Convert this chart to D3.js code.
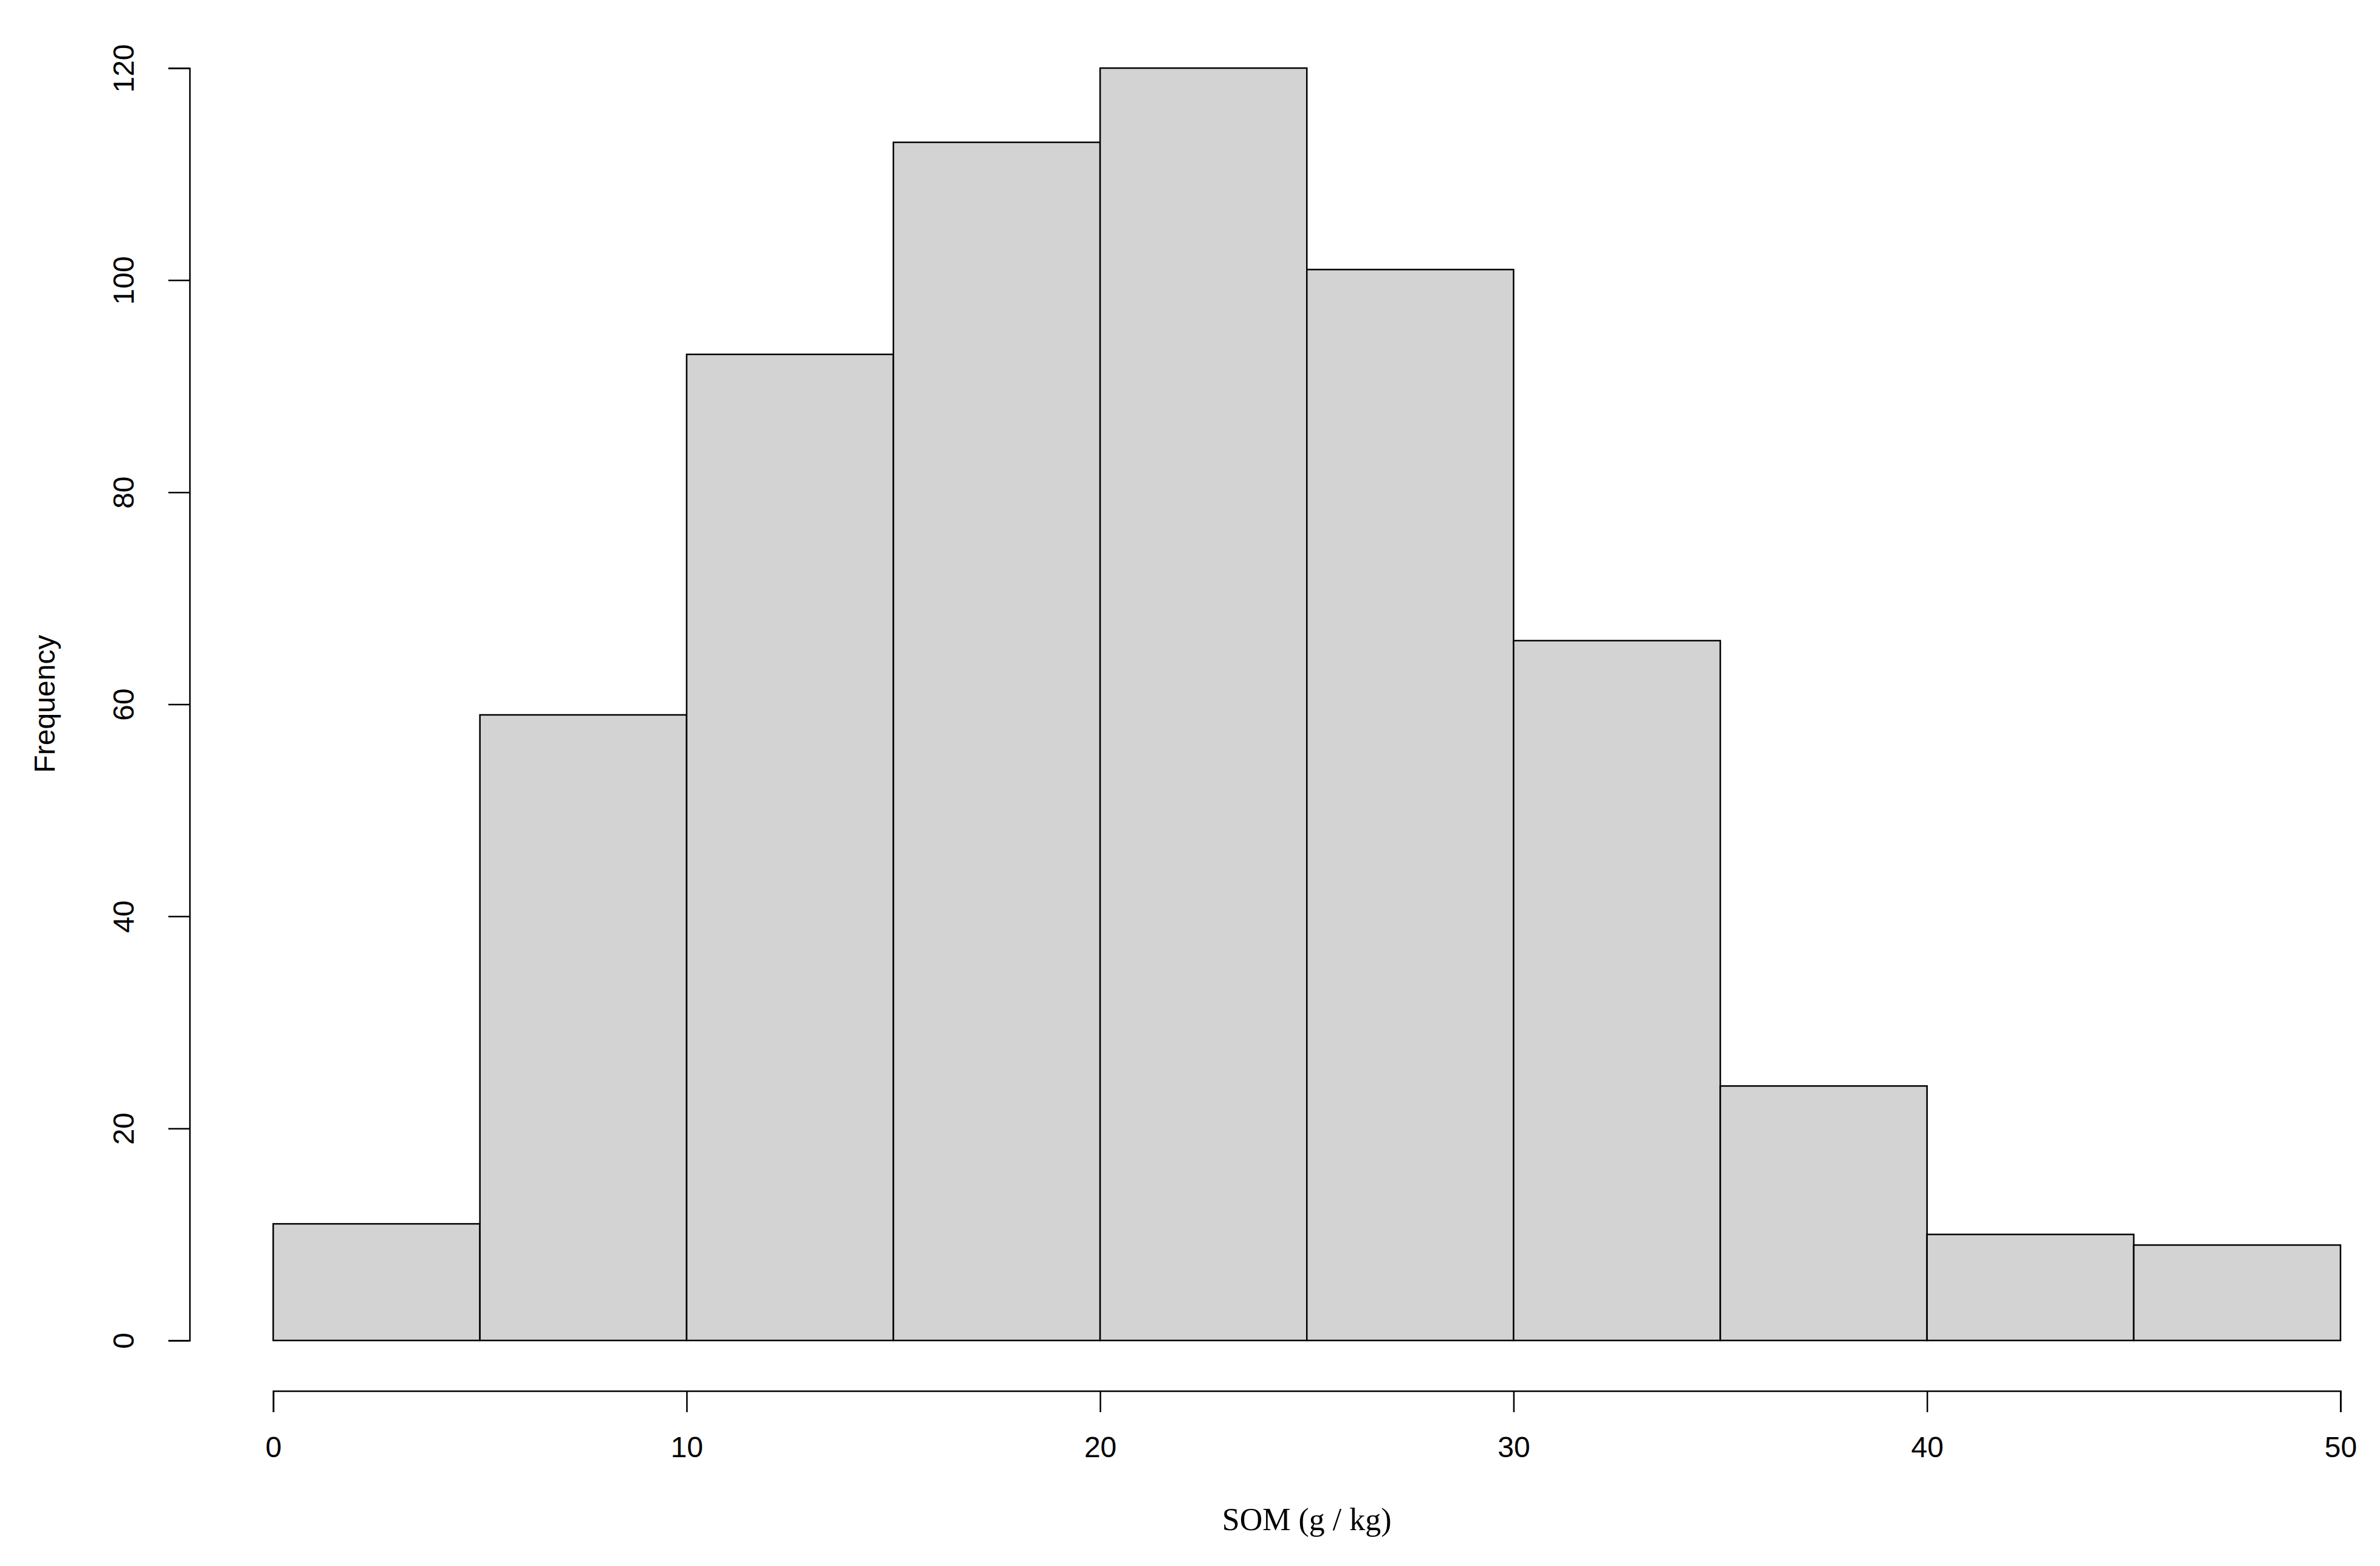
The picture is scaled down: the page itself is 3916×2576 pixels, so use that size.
<!DOCTYPE html>
<html>
<head>
<meta charset="utf-8">
<script src="https://cdn.jsdelivr.net/npm/d3@7"></script>
<style>
  body { margin: 0; background: #fff; }
  text { font-family: "Liberation Sans", Arial, sans-serif; fill: #000; }
</style>
</head>
<body>
<svg id="chart" width="3916" height="2576"></svg>
<script>
const binStarts = [0, 5, 10, 15, 20, 25, 30, 35, 40, 45];
const binWidth = 5;
const counts = [11, 59, 93, 113, 120, 101, 66, 24, 10, 9];
const xTicks = [0, 10, 20, 30, 40, 50];
const yTicks = [0, 20, 40, 60, 80, 100, 120];

const svg = d3.select("#chart");
const x = d3.scaleLinear().domain([0, 50]).range([449.5, 3851]);
const y = d3.scaleLinear().domain([0, 120]).range([2205, 112]);

// bars
svg.append("g")
    .selectAll("rect")
    .data(binStarts)
    .enter()
    .append("rect")
    .attr("x", d => x(d))
    .attr("y", (d, i) => y(counts[i]))
    .attr("width", d => x(d + binWidth) - x(d))
    .attr("height", (d, i) => y(0) - y(counts[i]))
    .attr("fill", "#d3d3d3")
    .attr("stroke", "#000")
    .attr("stroke-width", 2.5);

// x axis, offset below the plot like base R
const xAxis = svg.append("g")
    .attr("transform", "translate(0,2288)")
    .call(d3.axisBottom(x).tickValues(xTicks).tickSize(35).tickPadding(40).tickFormat(d3.format("d")));
xAxis.selectAll("text").style("font-size", "48px").attr("dy", "0.71em");

// y axis
const yAxis = svg.append("g")
    .attr("transform", "translate(312,0)")
    .call(d3.axisLeft(y).tickValues(yTicks).tickSize(35).tickFormat(d3.format("d")));
yAxis.selectAll("text")
    .style("font-size", "48px")
    .attr("text-anchor", "middle")
    .attr("x", null).attr("dy", null)
    .attr("transform", "translate(-92,0) rotate(-90)");

svg.selectAll(".domain, .tick line").attr("stroke", "#000").attr("stroke-width", 2.5);

// labels
svg.append("text")
    .attr("x", x(25)).attr("y", 2517)
    .attr("text-anchor", "middle")
    .style("font-family", "'Liberation Serif', 'Times New Roman', serif")
    .style("font-size", "52px")
    .text("SOM (g / kg)");

svg.append("text")
    .attr("transform", "translate(90,1158) rotate(-90)")
    .attr("text-anchor", "middle")
    .style("font-size", "48px")
    .text("Frequency");
</script>
</body>
</html>
